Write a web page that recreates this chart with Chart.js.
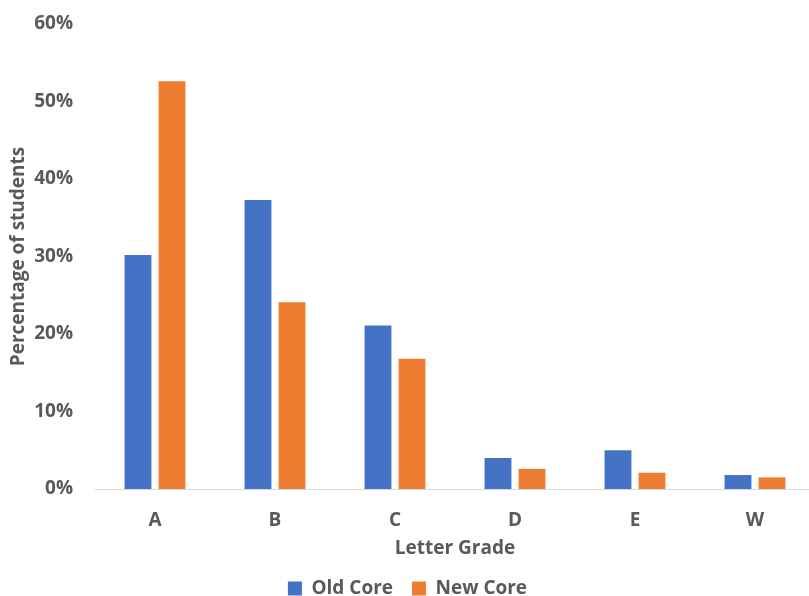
<!DOCTYPE html>
<html>
<head>
<meta charset="utf-8">
<script src="https://cdn.jsdelivr.net/npm/chart.js@4/dist/chart.umd.min.js"></script>
<style>
  html, body { margin: 0; padding: 0; background: #ffffff; overflow: hidden; }
  #wrap { width: 815px; height: 596px; overflow: hidden; }
</style>
</head>
<body>
<div id="wrap"><canvas id="chart" width="815" height="608"></canvas></div>
<script>
// Grade distribution, percentage of students per letter grade
const grades = ['A', 'B', 'C', 'D', 'E', 'W'];
const oldCore = [30.2, 37.3, 21.1, 4.0, 5.0, 1.8];
const newCore = [52.6, 24.1, 16.8, 2.6, 2.1, 1.5];
const yTicks = [0, 10, 20, 30, 40, 50, 60];

const textGrey = '#595959';
const font = 'Open Sans';

new Chart(document.getElementById('chart'), {
  type: 'bar',
  data: {
    labels: grades,
    datasets: [
      { label: 'Old Core', data: oldCore, backgroundColor: '#4472C4',
        categoryPercentage: 0.567, barPercentage: 0.79 },
      { label: 'New Core', data: newCore, backgroundColor: '#ED7D31',
        categoryPercentage: 0.567, barPercentage: 0.79 }
    ]
  },
  options: {
    responsive: false,
    animation: false,
    layout: { padding: { top: 0, left: 0, right: 0, bottom: 0 } },
    plugins: {
      tooltip: { enabled: false },
      legend: {
        position: 'bottom',
        labels: {
          color: textGrey,
          font: { family: font, size: 19, weight: 'bold' },
          boxWidth: 14, boxHeight: 14, padding: 19
        }
      }
    },
    scales: {
      x: {
        grid: { display: false, drawTicks: false },
        border: { display: true, color: '#d9d9d9', width: 1 },
        ticks: { color: textGrey, font: { family: font, size: 19, weight: 'bold' }, padding: 20 },
        title: { display: true, text: 'Letter Grade', color: textGrey,
                 font: { family: font, size: 19, weight: 'bold' }, padding: { top: 0, bottom: 0 } },
        afterFit: (scale) => { scale.height = 71; }
      },
      y: {
        min: 0, max: 60,
        afterBuildTicks: (axis) => { axis.ticks = yTicks.map(v => ({ value: v })); },
        grid: { display: false, drawTicks: false },
        border: { display: false },
        ticks: { color: textGrey, font: { family: font, size: 19, weight: 'bold' }, padding: 22,
                 callback: (v) => v + '%' },
        title: { display: true, text: 'Percentage of students', color: textGrey,
                 font: { family: font, size: 19, weight: 'bold' }, padding: { top: 7, bottom: 0 } },
        afterFit: (scale) => { scale.width = 95; scale.paddingTop = 24; }
      }
    }
  }
});
</script>
</body>
</html>
